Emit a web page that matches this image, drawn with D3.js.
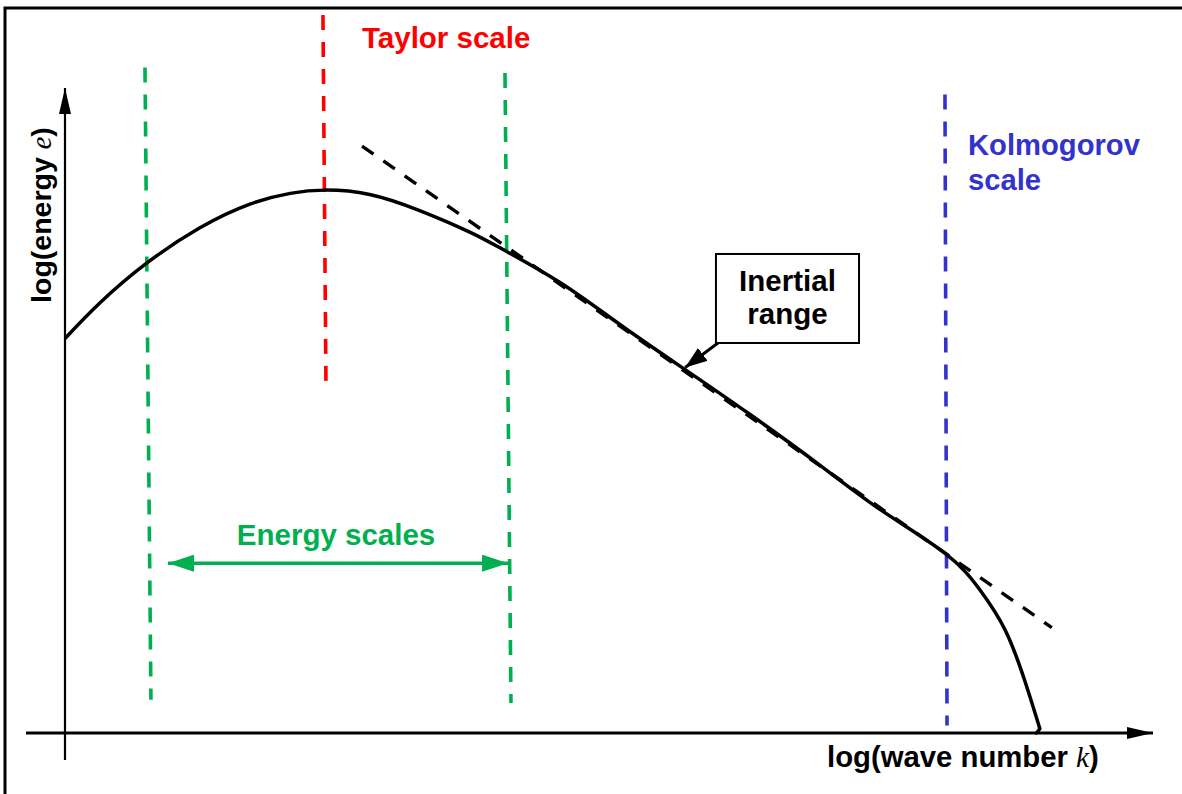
<!DOCTYPE html>
<html>
<head>
<meta charset="utf-8">
<script src="https://cdn.jsdelivr.net/npm/d3@7"></script>
<style>
  body { margin: 0; background: #fff; }
  text { font-family: "Liberation Sans", Arial, sans-serif; font-weight: bold; }
</style>
</head>
<body>
<script>
'use strict';

// energy spectrum, log k vs log e (arbitrary units)
const specK = [0, 0.32, 0.75, 1.24, 1.70, 2.07, 2.39, 2.80, 3.26, 3.72, 4.04, 4.55, 5.10, 5.70, 6.30, 6.94, 7.49, 8.09, 8.41, 8.64, 8.82, 8.96];
const specE = [3.67, 4.00, 4.37, 4.70, 4.92, 5.02, 5.05, 5.01, 4.86, 4.66, 4.49, 4.19, 3.80, 3.38, 2.96, 2.49, 2.08, 1.67, 1.33, 0.96, 0.49, 0.04];
// small hook where the curve meets the axis
const hookK = [8.96, 8.93];
const hookE = [0.04, 0.0];

// -5/3 power law guide
const lawK = [2.73, 9.07];
const lawE = [5.46, 0.98];

// vertical scale markers
const markerNames = ['energyLow', 'taylor', 'energyHigh', 'kolmogorov'];
const markerKTop = [0.735, 2.371, 4.044, 8.088];
const markerKBottom = [0.790, 2.399, 4.099, 8.107];
const markerETop = [6.19, 6.68, 6.14, 5.94];
const markerEBottom = [0.31, 3.19, 0.28, 0.07];
const markerColors = ['#00b050', '#ff0000', '#00b050', '#3333cc'];

// energy range arrow and inertial range callout
const energyArrowK = [0.947, 4.072];
const energyArrowE = 1.58;
const inertialBoxK = [5.983, 7.298];
const inertialBoxE = [4.456, 3.628];
const inertialTip = [5.70, 3.40];

const width = 1182, height = 794;

const svg = d3.select('body').append('svg')
  .attr('width', width)
  .attr('height', height);

const x = d3.scaleLinear().domain([0, 10]).range([65, 1153]);
const y = d3.scaleLinear().domain([0, 6]).range([733, 88]);

const defs = svg.append('defs');
function marker(id, color, w, h) {
  defs.append('marker')
    .attr('id', id)
    .attr('viewBox', `0 0 ${w} ${h}`)
    .attr('refX', w).attr('refY', h / 2)
    .attr('markerWidth', w).attr('markerHeight', h)
    .attr('markerUnits', 'userSpaceOnUse')
    .attr('orient', 'auto-start-reverse')
    .append('path')
      .attr('d', `M0,0L${w},${h / 2}L0,${h}Z`)
      .attr('fill', color);
}
marker('axisHead', '#000', 26, 12);
marker('greenHead', '#00b050', 26, 17);
marker('calloutHead', '#000', 22, 16);

// outer frame
svg.append('path')
  .attr('d', `M5,${height}V8H${width}`)
  .attr('fill', 'none')
  .attr('stroke', '#000')
  .attr('stroke-width', 3);

// axes
svg.append('line')
  .attr('x1', x(-0.358)).attr('x2', x(10))
  .attr('y1', y(0)).attr('y2', y(0))
  .attr('stroke', '#000').attr('stroke-width', 2.8)
  .attr('marker-end', 'url(#axisHead)');

svg.append('line')
  .attr('x1', x(0)).attr('x2', x(0))
  .attr('y1', y(-0.25)).attr('y2', y(6))
  .attr('stroke', '#000').attr('stroke-width', 2.2)
  .attr('marker-end', 'url(#axisHead)');

// scale markers
markerNames.forEach((name, i) => {
  svg.append('line')
    .attr('class', name)
    .attr('x1', x(markerKTop[i])).attr('y1', y(markerETop[i]))
    .attr('x2', x(markerKBottom[i])).attr('y2', y(markerEBottom[i]))
    .attr('stroke', markerColors[i])
    .attr('stroke-width', 3.6)
    .attr('stroke-dasharray', '15,12');
});

// power law guide
svg.append('line')
  .attr('x1', x(lawK[0])).attr('y1', y(lawE[0]))
  .attr('x2', x(lawK[1])).attr('y2', y(lawE[1]))
  .attr('stroke', '#000')
  .attr('stroke-width', 3.4)
  .attr('stroke-dasharray', '14,12');

// spectrum
const line = d3.line()
  .x((d, i) => x(specK[i]))
  .y((d, i) => y(specE[i]))
  .curve(d3.curveNatural);

svg.append('path')
  .attr('d', line(specK))
  .attr('fill', 'none')
  .attr('stroke', '#000')
  .attr('stroke-width', 3.5)
  .attr('stroke-linejoin', 'round');

const hookLine = d3.line()
  .x((d, i) => x(hookK[i]))
  .y((d, i) => y(hookE[i]));

svg.append('path')
  .attr('d', hookLine(hookK))
  .attr('fill', 'none')
  .attr('stroke', '#000')
  .attr('stroke-width', 3.5)
  .attr('stroke-linecap', 'round');

// energy scales arrow
svg.append('line')
  .attr('x1', x(energyArrowK[0])).attr('x2', x(energyArrowK[1]))
  .attr('y1', y(energyArrowE)).attr('y2', y(energyArrowE))
  .attr('stroke', '#00b050').attr('stroke-width', 3.5)
  .attr('marker-start', 'url(#greenHead)')
  .attr('marker-end', 'url(#greenHead)');

svg.append('text')
  .attr('x', x((energyArrowK[0] + energyArrowK[1]) / 2) - 2)
  .attr('y', 545)
  .attr('text-anchor', 'middle')
  .attr('fill', '#00b050')
  .style('font-size', '29.5px')
  .text('Energy scales');

// inertial range callout
svg.append('rect')
  .attr('x', x(inertialBoxK[0]))
  .attr('y', y(inertialBoxE[0]))
  .attr('width', x(inertialBoxK[1]) - x(inertialBoxK[0]))
  .attr('height', y(inertialBoxE[1]) - y(inertialBoxE[0]))
  .attr('fill', '#fff')
  .attr('stroke', '#000')
  .attr('stroke-width', 2);

svg.append('line')
  .attr('x1', x(inertialBoxK[0]) + 2).attr('y1', y(inertialBoxE[1]))
  .attr('x2', x(inertialTip[0])).attr('y2', y(inertialTip[1]))
  .attr('stroke', '#000').attr('stroke-width', 3)
  .attr('marker-end', 'url(#calloutHead)');

const boxCx = (x(inertialBoxK[0]) + x(inertialBoxK[1])) / 2;
svg.append('text')
  .attr('x', boxCx).attr('y', 291)
  .attr('text-anchor', 'middle')
  .style('font-size', '29.5px')
  .text('Inertial');
svg.append('text')
  .attr('x', boxCx).attr('y', 324)
  .attr('text-anchor', 'middle')
  .style('font-size', '29.5px')
  .text('range');

// marker labels
svg.append('text')
  .attr('x', 362).attr('y', 48)
  .attr('fill', '#ff0000')
  .style('font-size', '29.5px')
  .text('Taylor scale');

const kolmo = svg.append('text')
  .attr('x', 968).attr('y', 155)
  .attr('fill', '#3333cc')
  .style('font-size', '29.2px');
kolmo.append('tspan').attr('x', 968).text('Kolmogorov');
kolmo.append('tspan').attr('x', 968).attr('dy', 35).text('scale');

// axis titles
const xt = svg.append('text')
  .attr('x', 827).attr('y', 767)
  .style('font-size', '29.3px');
xt.append('tspan').text('log(wave number ');
xt.append('tspan')
  .style('font-family', '"Liberation Serif", "Times New Roman", serif')
  .style('font-style', 'italic')
  .style('font-weight', 'normal')
  .text('k');
xt.append('tspan').text(')');

const yt = svg.append('text')
  .attr('transform', 'translate(51, 215) rotate(-90)')
  .attr('text-anchor', 'middle')
  .style('font-size', '28.5px');
yt.append('tspan').text('log(energy ');
yt.append('tspan')
  .style('font-family', '"Liberation Serif", "Times New Roman", serif')
  .style('font-style', 'italic')
  .style('font-weight', 'normal')
  .text('e');
yt.append('tspan').text(')');
</script>
</body>
</html>
